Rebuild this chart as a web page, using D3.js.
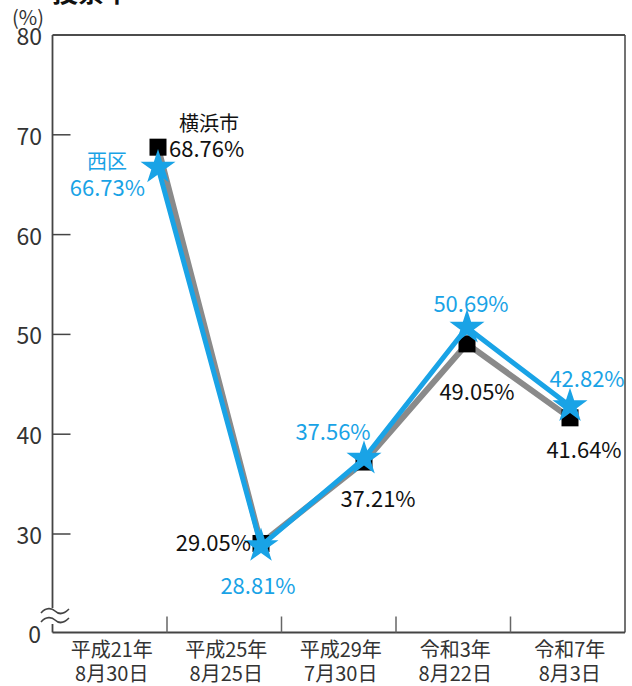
<!DOCTYPE html>
<html><head><meta charset="utf-8">
<script src="https://cdn.jsdelivr.net/npm/d3@7"></script>
<style>body{margin:0;background:#fff}svg{display:block}</style></head>
<body><svg id="c" width="632" height="686"></svg>
<script>
// ---- data ----
const categoriesLine1 = ["平成21年","平成25年","平成29年","令和3年","令和7年"];
const categoriesLine2 = ["8月30日","8月25日","7月30日","8月22日","8月3日"];
const yokohamaValues = [68.76, 29.05, 37.21, 49.05, 41.64];
const nishiValues = [66.73, 28.81, 37.56, 50.69, 42.82];
const yTicks = [30, 40, 50, 60, 70, 80];
const seriesNames = ["横浜市", "西区"];

// ---- label placement (layout only) ----
const yokoLabelPos = [
  {dx: 11, dy: 0, a: "start"},
  {dx: -10, dy: -2, a: "end"},
  {dx: 14, dy: 35, a: "middle"},
  {dx: 10, dy: 46, a: "middle"},
  {dx: 14, dy: 30, a: "middle"}
];
const nishiLabelPos = [
  {dx: -13, dy: 19, a: "end"},
  {dx: -3, dy: 38, a: "middle"},
  {dx: -31, dy: -29, a: "middle"},
  {dx: 4, dy: -26, a: "middle"},
  {dx: 17, dy: -29, a: "middle"}
];

const BLUE = "#19a3e6", GRAY = "#8a8a8a", AXIS = "#444";
const FONT = "'Noto Sans CJK JP','Noto Sans',sans-serif";

const svg = d3.select("#c");
const pLeft = 52.5, pRight = 625, pTop = 35, pBottom = 632.5;

const idx = d3.range(categoriesLine1.length);
const xBand = d3.scaleBand().domain(idx).range([pLeft, pRight]);
const xPt = d3.scalePoint().domain(idx).range([158, 570]);
const y = d3.scaleLinear().domain([30, 80]).range([534, pTop]);

// title fragment (clipped at top)
svg.append("text").attr("x", 52).attr("y", 2).attr("font-family", FONT)
  .attr("font-weight", 700).attr("font-size", 26).attr("fill", "#111").text("投票率");

// frame
svg.append("line").attr("x1", pLeft).attr("x2", pRight).attr("y1", pTop).attr("y2", pTop)
  .attr("stroke", "#111").attr("stroke-width", 1.5);
svg.append("line").attr("x1", pRight).attr("x2", pRight).attr("y1", pTop).attr("y2", pBottom)
  .attr("stroke", AXIS).attr("stroke-width", 1.5);
svg.append("line").attr("x1", pLeft).attr("x2", pRight).attr("y1", pBottom).attr("y2", pBottom)
  .attr("stroke", AXIS).attr("stroke-width", 1.8);
svg.append("line").attr("x1", pLeft).attr("x2", pLeft).attr("y1", pTop).attr("y2", 608)
  .attr("stroke", AXIS).attr("stroke-width", 1.8);
svg.append("line").attr("x1", pLeft).attr("x2", pLeft).attr("y1", 624).attr("y2", pBottom)
  .attr("stroke", AXIS).attr("stroke-width", 1.8);

// break symbol
[611, 620].forEach(yy => {
  svg.append("path")
    .attr("d", `M41,${yy+2} C46,${yy-4} 52,${yy-3} 55,${yy} S63,${yy+4} 69,${yy-2}`)
    .attr("fill", "none").attr("stroke", AXIS).attr("stroke-width", 1.6);
});

// y ticks
yTicks.filter(t => t < 80).forEach(t => {
  svg.append("line").attr("x1", pLeft).attr("x2", pLeft + 18).attr("y1", y(t)).attr("y2", y(t))
    .attr("stroke", AXIS).attr("stroke-width", 1.5);
});
svg.append("g").selectAll("text").data(yTicks).join("text")
  .attr("x", 42).attr("y", d => y(d)).attr("text-anchor", "end")
  .attr("dominant-baseline", "central").attr("font-family", FONT)
  .attr("font-size", 23).attr("fill", "#333").text(d => d);
svg.append("text").attr("x", 41).attr("y", pBottom).attr("text-anchor", "end")
  .attr("dominant-baseline", "central").attr("font-family", FONT)
  .attr("font-size", 23).attr("fill", "#333").text("0");
svg.append("text").attr("x", 28).attr("y", 16).attr("text-anchor", "middle")
  .attr("dominant-baseline", "central").attr("font-family", FONT)
  .attr("font-size", 20).attr("fill", "#333").text("(%)");

// x ticks (band boundaries)
idx.slice(1).forEach(i => {
  const xx = xBand(i);
  svg.append("line").attr("x1", xx).attr("x2", xx).attr("y1", pBottom).attr("y2", pBottom - 16)
    .attr("stroke", "#666").attr("stroke-width", 1.5);
});
const cat = svg.append("g").selectAll("g").data(idx).join("g");
cat.append("text").attr("x", i => xBand(i) + xBand.bandwidth() / 2 + 2).attr("y", 648)
  .attr("text-anchor", "middle").attr("dominant-baseline", "central")
  .attr("font-family", FONT).attr("font-size", 20).attr("fill", "#333")
  .text(i => categoriesLine1[i]);
cat.append("text").attr("x", i => xBand(i) + xBand.bandwidth() / 2 + 2).attr("y", 672)
  .attr("text-anchor", "middle").attr("dominant-baseline", "central")
  .attr("font-family", FONT).attr("font-size", 20).attr("fill", "#333")
  .text(i => categoriesLine2[i]);

// lines
const lineY = d3.line().x((d, i) => xPt(i)).y(d => y(d));
svg.append("path").attr("d", lineY(yokohamaValues)).attr("fill", "none")
  .attr("stroke", GRAY).attr("stroke-width", 6).attr("stroke-linejoin", "miter");
// squares
const sq = 17;
svg.append("g").selectAll("rect").data(yokohamaValues).join("rect")
  .attr("x", (d, i) => xPt(i) - sq / 2).attr("y", d => y(d) - sq / 2)
  .attr("width", sq).attr("height", sq).attr("fill", "#000");
svg.append("path").attr("d", lineY(nishiValues)).attr("fill", "none")
  .attr("stroke", BLUE).attr("stroke-width", 5).attr("stroke-linejoin", "miter");
// stars
const star = d3.symbol().type(d3.symbolStar).size(380);
svg.append("g").selectAll("path").data(nishiValues).join("path")
  .attr("transform", (d, i) => `translate(${xPt(i)},${y(d)})`)
  .attr("d", star).attr("fill", BLUE);

// value labels
svg.append("g").selectAll("text").data(yokohamaValues).join("text")
  .attr("x", (d, i) => xPt(i) + yokoLabelPos[i].dx)
  .attr("y", (d, i) => y(d) + yokoLabelPos[i].dy)
  .attr("text-anchor", (d, i) => yokoLabelPos[i].a)
  .attr("dominant-baseline", "central").attr("font-family", FONT)
  .attr("font-size", 22).attr("fill", "#111").text(d => d.toFixed(2) + "%");
svg.append("g").selectAll("text").data(nishiValues).join("text")
  .attr("x", (d, i) => xPt(i) + nishiLabelPos[i].dx)
  .attr("y", (d, i) => y(d) + nishiLabelPos[i].dy)
  .attr("text-anchor", (d, i) => nishiLabelPos[i].a)
  .attr("dominant-baseline", "central").attr("font-family", FONT)
  .attr("font-size", 22).attr("fill", BLUE).text(d => d.toFixed(2) + "%");

// series names
svg.append("text").attr("x", xPt(0) + 51).attr("y", y(yokohamaValues[0]) - 25)
  .attr("text-anchor", "middle").attr("dominant-baseline", "central")
  .attr("font-family", FONT).attr("font-size", 20).attr("fill", "#111").text(seriesNames[0]);
svg.append("text").attr("x", xPt(0) - 51).attr("y", y(nishiValues[0]) - 7)
  .attr("text-anchor", "middle").attr("dominant-baseline", "central")
  .attr("font-family", FONT).attr("font-size", 20).attr("fill", BLUE).text(seriesNames[1]);
</script></body></html>
